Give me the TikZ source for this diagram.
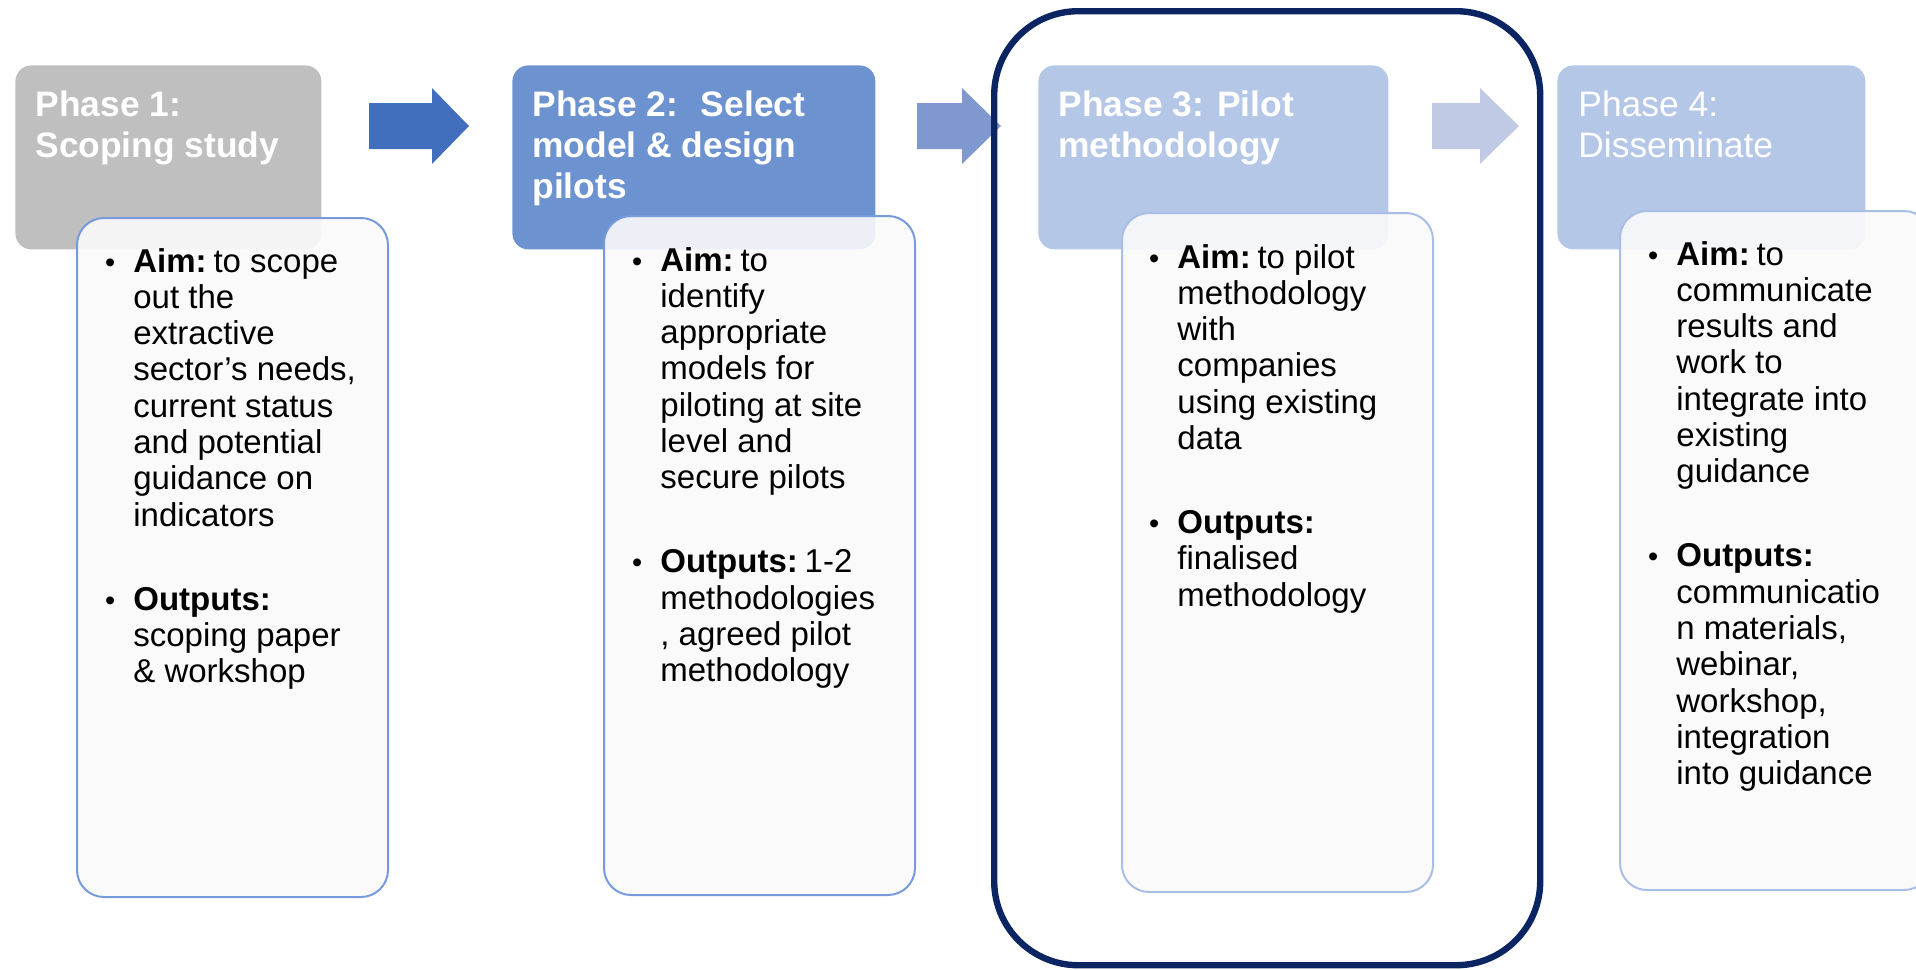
\documentclass[tikz,border=0pt]{standalone}
\usepackage{fontspec}
\setmainfont{Liberation Sans}
\usepackage{array}

\definecolor{hdrgray}{HTML}{BFBFBF}
\definecolor{hdrblue}{HTML}{6C92D0}
\definecolor{hdrlight}{HTML}{B4C7E7}
\definecolor{arrowA}{HTML}{416EBD}
\definecolor{arrowB}{HTML}{7F98CF}
\definecolor{arrowC}{HTML}{C0CAE5}
\definecolor{lineA}{HTML}{769BDA}
\definecolor{lineB}{HTML}{A8BEE6}
\definecolor{cardfill}{HTML}{FAFAFA}
\definecolor{framenavy}{HTML}{0B2563}

% bullet cell of a list row
\newcommand{\bulletcell}{\makebox[14.4pt][l]{\hspace{0.3pt}{\fontsize{14.5}{14.5}\selectfont •}}}
% bold lead-in of a list item
\newcommand{\lead}[1]{\textbf{#1}\hspace{3.4pt}}

\begin{document}
\begin{tikzpicture}[x=0.5pt, y=-0.5pt,
  header/.style={rectangle, rounded corners=8pt, inner sep=0pt,
    anchor=north west, minimum height=92pt},
  card/.style={rectangle, draw, line width=1pt, rounded corners=13.5pt,
    fill=cardfill, fill opacity=0.9, inner sep=0pt, anchor=north west,
    minimum width=155.5pt, minimum height=339.5pt},
  htext/.style={anchor=base west, inner sep=0pt, text=white,
    font=\fontsize{17.7}{20.5}\selectfont\bfseries},
  htextlight/.style={htext, font=\fontsize{17.7}{20.5}\selectfont},
  ctext/.style={anchor=base west, inner sep=0pt, text=black,
    font=\fontsize{16.5}{18.15}\selectfont},
]
\useasboundingbox (0,0) rectangle (1916,969);

% phase header boxes
\node[header, fill=hdrgray,  minimum width=153pt]   (h1) at (15,65) {};
\node[header, fill=hdrblue,  minimum width=181.5pt] (h2) at (512,65) {};
\node[header, fill=hdrlight, minimum width=175pt]   (h3) at (1038,65) {};
\node[header, fill=hdrlight, minimum width=154pt]   (h4) at (1557,65) {};

\node[htext] (t1) at (35,116) {\begin{tabular}[t]{@{}l@{}}Phase 1:\\Scoping study\end{tabular}};
\node[htext] (t2) at (532,116) {\begin{tabular}[t]{@{}l@{}}Phase 2:~ Select\\model \& design\\pilots\end{tabular}};
\node[htext] (t3) at (1058,116) {\begin{tabular}[t]{@{}l@{}}Phase 3: Pilot\\methodology\end{tabular}};
\node[htextlight] (t4) at (1578,116) {\begin{tabular}[t]{@{}l@{}}Phase 4:\\Disseminate\end{tabular}};

% detail cards
\node[card, draw=lineA] (c1) at (76,217) {};
\node[card, draw=lineA] (c2) at (603,215) {};
\node[card, draw=lineB] (c3) at (1121,212) {};
\node[card, draw=lineB] (c4) at (1619,210) {};

\node[ctext] (l1) at (104.2,272) {\begin{tabular}[t]{@{}l@{}l@{}}
\bulletcell & \lead{Aim:}to scope\\
 & out the\\
 & extractive\\
 & sector’s needs,\\
 & current status\\
 & and potential\\
 & guidance on\\
 & indicators\\[23.85pt]
\bulletcell & \textbf{Outputs:}\\
 & scoping paper\\
 & \& workshop
\end{tabular}};

\node[ctext] (l2) at (631.2,271) {\begin{tabular}[t]{@{}l@{}l@{}}
\bulletcell & \lead{Aim:}to\\
 & identify\\
 & appropriate\\
 & models for\\
 & piloting at site\\
 & level and\\
 & secure pilots\\[23.85pt]
\bulletcell & \lead{Outputs:}1-2\\
 & methodologies\\
 & , agreed pilot\\
 & methodology
\end{tabular}};

\node[ctext] (l3) at (1148.2,268) {\begin{tabular}[t]{@{}l@{}l@{}}
\bulletcell & \lead{Aim:}to pilot\\
 & methodology\\
 & with\\
 & companies\\
 & using existing\\
 & data\\[23.85pt]
\bulletcell & \textbf{Outputs:}\\
 & finalised\\
 & methodology
\end{tabular}};

\node[ctext] (l4) at (1647.2,265) {\begin{tabular}[t]{@{}l@{}l@{}}
\bulletcell & \lead{Aim:}to\\
 & communicate\\
 & results and\\
 & work to\\
 & integrate into\\
 & existing\\
 & guidance\\[23.85pt]
\bulletcell & \textbf{Outputs:}\\
 & communicatio\\
 & n materials,\\
 & webinar,\\
 & workshop,\\
 & integration\\
 & into guidance
\end{tabular}};

% block arrows between the phases
\fill[arrowA] (369,103) -- (432,103) -- (432,88) -- (469,126) -- (432,164) -- (432,149) -- (369,149) -- cycle;
\fill[arrowB] (917,103) -- (962,103) -- (962,88) -- (1001,126) -- (962,164) -- (962,149) -- (917,149) -- cycle;
\fill[arrowC] (1432,103) -- (1480,103) -- (1480,88) -- (1519,126) -- (1480,164) -- (1480,149) -- (1432,149) -- cycle;

% frame around the current phase
\node[rectangle, draw=framenavy, line width=3.2pt, rounded corners=42pt,
  inner sep=0pt, anchor=north west, minimum width=273pt, minimum height=477pt]
  (focus) at (991,8) {};
\end{tikzpicture}
\end{document}
